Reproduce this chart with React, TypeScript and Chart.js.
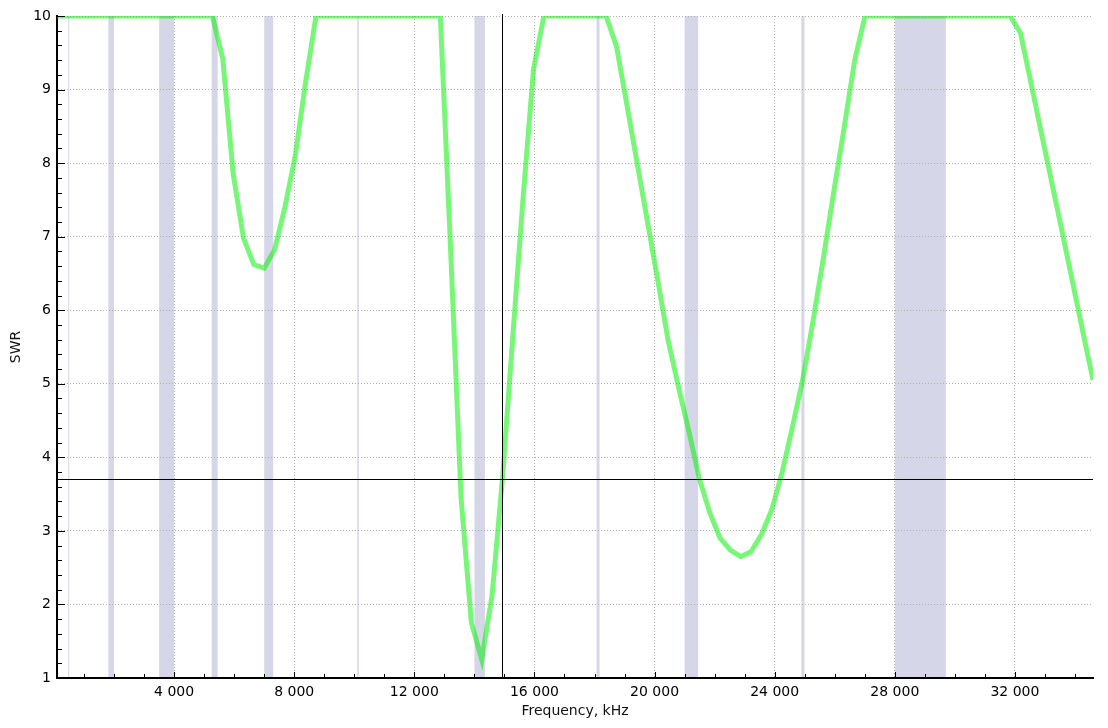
import React, { useEffect, useRef } from 'react';
import { Chart, registerables } from 'chart.js';

Chart.register(...registerables);

// Sample frequencies (kHz)
const freqKHz = [
  100, 445, 790, 1135, 1480, 1825, 2170, 2515, 2860, 3205,
  3550, 3895, 4240, 4585, 4930, 5275, 5620, 5965, 6310, 6655,
  7000, 7345, 7690, 8035, 8380, 8725, 9070, 9415, 9760, 10105,
  10450, 10795, 11140, 11485, 11830, 12175, 12520, 12865, 13210, 13555,
  13900, 14245, 14590, 14935, 15280, 15625, 15970, 16315, 16660, 17005,
  17350, 17695, 18040, 18385, 18730, 19075, 19420, 19765, 20110, 20455,
  20800, 21145, 21490, 21835, 22180, 22525, 22870, 23215, 23560, 23905,
  24250, 24595, 24940, 25285, 25630, 25975, 26320, 26665, 27010, 27355,
  27700, 28045, 28390, 28735, 29080, 29425, 29770, 30115, 30460, 30805,
  31150, 31495, 31840, 32185, 32530, 32875, 33220, 33565, 33910, 34255,
  34600,
];

// SWR readings (clamped at 10)
const swr = [
  10, 10, 10, 10, 10, 10, 10, 10, 10, 10,
  10, 10, 10, 10, 10, 10, 9.42, 7.86, 6.98, 6.62,
  6.57, 6.82, 7.4, 8.1, 9.1, 10, 10, 10, 10, 10,
  10, 10, 10, 10, 10, 10, 10, 10, 6.8, 3.45,
  1.75, 1.25, 2.13, 3.71, 5.65, 7.55, 9.28, 10, 10, 10,
  10, 10, 10, 10, 9.59, 8.8, 8.0, 7.2, 6.4, 5.58,
  4.95, 4.35, 3.71, 3.25, 2.9, 2.74, 2.65, 2.72, 2.95, 3.29,
  3.8, 4.42, 5.07, 5.87, 6.73, 7.63, 8.5, 9.4, 10, 10,
  10, 10, 10, 10, 10, 10, 10, 10, 10, 10,
  10, 10, 10, 9.77, 9.1, 8.42, 7.75, 7.08, 6.4, 5.72,
  5.05,
];

// Amateur bands (kHz)
const bandStartKHz = [472, 1810, 3500, 5250, 7000, 10100, 14000, 18068, 21000, 24890, 28000];
const bandEndKHz = [479, 2000, 4000, 5450, 7300, 10150, 14350, 18168, 21450, 24990, 29700];

// Axis ticks
const xTickValues = [4000, 8000, 12000, 16000, 20000, 24000, 28000, 32000];
const yTickValues = [1, 2, 3, 4, 5, 6, 7, 8, 9, 10];
const xMin = 100;
const xMax = 34600;
const yMin = 1;
const yMax = 10;

// Cursor position
const cursorFreqKHz = 14935;
const cursorSwr = 3.71;

const FONT = 'DejaVu Sans';

function fmtThousands(v: number): string {
  return String(v).replace(/\B(?=(\d{3})+(?!\d))/g, ' ');
}

const bandsPlugin = {
  id: 'hamBands',
  beforeDraw(chart: any) {
    const { ctx, chartArea: a, scales } = chart;
    const x = scales.x;
    ctx.save();
    ctx.fillStyle = '#d5d7e8';
    for (let i = 0; i < bandStartKHz.length; i++) {
      const p1 = x.getPixelForValue(bandStartKHz[i]);
      const p2 = x.getPixelForValue(bandEndKHz[i]);
      const w = Math.max(p2 - p1, 1);
      ctx.fillRect(p1, a.top, w, a.bottom - a.top);
    }
    ctx.restore();
  },
};

const cursorPlugin = {
  id: 'cursor',
  afterDatasetsDraw(chart: any) {
    const { ctx, chartArea: a, scales } = chart;
    const px = Math.round(scales.x.getPixelForValue(cursorFreqKHz)) + 0.5;
    const py = Math.round(scales.y.getPixelForValue(cursorSwr)) + 0.5;
    ctx.save();
    ctx.strokeStyle = '#000';
    ctx.lineWidth = 1;
    ctx.beginPath();
    ctx.moveTo(px, a.top - 2);
    ctx.lineTo(px, a.bottom);
    ctx.moveTo(a.left, py);
    ctx.lineTo(a.right, py);
    ctx.stroke();
    ctx.restore();
  },
};

const innerTicksPlugin = {
  id: 'innerTicks',
  afterDraw(chart: any) {
    const { ctx, chartArea: a, scales } = chart;
    const x = scales.x;
    const y = scales.y;
    ctx.save();
    ctx.strokeStyle = '#000';
    ctx.lineWidth = 1;
    ctx.beginPath();
    for (let f = 1000; f < xMax; f += 1000) {
      const px = Math.round(x.getPixelForValue(f)) + 0.5;
      const len = f % 4000 === 0 ? 6 : 4;
      ctx.moveTo(px, a.bottom);
      ctx.lineTo(px, a.bottom - len);
    }
    for (let i = 0; i <= 45; i++) {
      const v = yMin + i * 0.2;
      const py = Math.round(y.getPixelForValue(v)) + 0.5;
      const len = i % 5 === 0 ? 8 : 5;
      ctx.moveTo(a.left, py);
      ctx.lineTo(a.left + len, py);
    }
    ctx.stroke();
    ctx.restore();
  },
};

export default function App() {
  const canvasRef = useRef<HTMLCanvasElement | null>(null);

  useEffect(() => {
    document.body.style.margin = '0';
    const canvas = canvasRef.current;
    if (!canvas) return;
    const points = freqKHz.map((f, i) => ({ x: f, y: swr[i] }));
    const chart = new Chart(canvas, {
      type: 'line',
      data: {
        datasets: [
          {
            label: 'SWR',
            data: points,
            borderColor: 'rgba(0, 238, 0, 0.53)',
            backgroundColor: 'rgba(0, 238, 0, 0.53)',
            borderWidth: 5,
            pointRadius: 0,
            tension: 0,
            fill: false,
          },
        ],
      },
      options: {
        animation: false,
        responsive: false,
        devicePixelRatio: 1,
        layout: { padding: { left: 0, top: 16, right: 15, bottom: 0 } },
        plugins: {
          legend: { display: false },
          tooltip: { enabled: false },
        },
        scales: {
          x: {
            type: 'linear',
            min: xMin,
            max: xMax,
            afterBuildTicks: (scale: any) => {
              scale.ticks = xTickValues.map((value) => ({ value }));
            },
            afterFit: (scale: any) => {
              scale.height = 50;
            },
            ticks: {
              autoSkip: false,
              maxRotation: 0,
              padding: 6,
              color: '#000',
              font: { family: FONT, size: 14 },
              callback: (v: any) => fmtThousands(Number(v)),
            },
            grid: {
              drawTicks: false,
              color: '#b0b0b0',
              lineWidth: 1,
            },
            border: { display: true, color: '#000', width: 2, dash: [1, 2] },
            title: {
              display: true,
              text: 'Frequency, kHz',
              color: '#111',
              font: { family: FONT, size: 14 },
              padding: { top: 0, bottom: 8 },
            },
          },
          y: {
            type: 'linear',
            min: yMin,
            max: yMax,
            afterBuildTicks: (scale: any) => {
              scale.ticks = yTickValues.map((value) => ({ value }));
            },
            afterFit: (scale: any) => {
              scale.width = 57;
            },
            ticks: {
              padding: 6,
              color: '#000',
              font: { family: FONT, size: 14 },
              callback: (v: any) => String(v),
            },
            grid: {
              drawTicks: false,
              color: '#b0b0b0',
              lineWidth: 1,
            },
            border: { display: true, color: '#000', width: 2, dash: [1, 2] },
            title: {
              display: true,
              text: 'SWR',
              color: '#111',
              font: { family: FONT, size: 14 },
              padding: { top: 8, bottom: 0 },
            },
          },
        },
      } as any,
      plugins: [bandsPlugin, cursorPlugin, innerTicksPlugin],
    });
    return () => {
      chart.destroy();
    };
  }, []);

  return (
    <div style={{ width: 1108, height: 728, background: '#fff' }}>
      <canvas ref={canvasRef} width={1108} height={728} style={{ display: 'block' }} />
    </div>
  );
}
